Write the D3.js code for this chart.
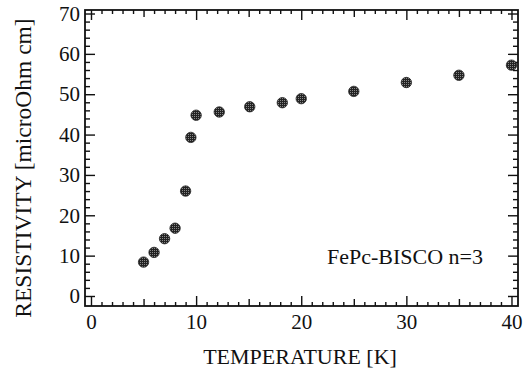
<!DOCTYPE html>
<html>
<head>
<meta charset="utf-8">
<script src="https://cdn.jsdelivr.net/npm/d3@7"></script>
<style>
  body { margin: 0; background: #fff; }
  .axis path { stroke: #111; stroke-width: 1.8; }
  .axis line { stroke: #111; stroke-width: 1.4; }
</style>
</head>
<body>
<svg id="chart" width="527" height="377"></svg>
<script>
// data
const temperature = [5, 6, 7, 8, 9, 9.5, 10, 12.2, 15.1, 18.2, 20, 25, 30, 35, 40]
const resistivity = [8.4, 10.8, 14.2, 16.8, 26, 39.3, 44.8, 45.6, 46.9, 47.9, 48.9, 50.7, 52.9, 54.7, 57.2]
const xTicks = [0, 10, 20, 30, 40]
const yTicks = [0, 10, 20, 30, 40, 50, 60, 70]
const label = 'FePc-BISCO n=3'

const FONT = 'Liberation Serif'
const W = 527, H = 377
const m = { left: 85, right: 9, top: 10, bottom: 71 }
const svg = d3.select('#chart')

const x = d3.scaleLinear().domain([-0.57, 40.62]).range([m.left, W - m.right])
const y = d3.scaleLinear().domain([-2.48, 70.87]).range([H - m.bottom, m.top])

// dithered marker fill
const defs = svg.append('defs')
const pat = defs.append('pattern').attr('id', 'dots').attr('width', 2).attr('height', 2)
  .attr('patternUnits', 'userSpaceOnUse')
pat.append('rect').attr('width', 2).attr('height', 2).attr('fill', '#222')
pat.append('rect').attr('width', 1).attr('height', 1).attr('fill', '#888')

const minorX = d3.range(0, 41, 1).filter(d => d % 5 !== 0)
const midX = d3.range(5, 40, 10)
const minorY = d3.range(0, 71, 2).filter(d => d % 10 !== 0)

function axisGroup(axis, tx, ty){
  const g = svg.append('g').attr('class', 'axis').attr('transform', `translate(${tx},${ty})`).call(axis)
  g.select('.domain').remove()
  g.attr('font-family', FONT)
  return g
}
const noLab = () => ''
const yb = H - m.bottom, xr = W - m.right

// bottom
axisGroup(d3.axisBottom(x).tickValues(minorX).tickSize(-4).tickFormat(noLab), 0, yb)
axisGroup(d3.axisBottom(x).tickValues(midX).tickSize(-7).tickFormat(noLab), 0, yb)
const bx = axisGroup(d3.axisBottom(x).tickValues(xTicks).tickSize(-10).tickFormat(d3.format('d')), 0, yb)
bx.selectAll('text').attr('font-size', 21).attr('fill', '#111').attr('dy', '0.35em').attr('y', 16)
// top
axisGroup(d3.axisTop(x).tickValues(minorX).tickSize(-4).tickFormat(noLab), 0, m.top)
axisGroup(d3.axisTop(x).tickValues(midX).tickSize(-7).tickFormat(noLab), 0, m.top)
axisGroup(d3.axisTop(x).tickValues(xTicks).tickSize(-10).tickFormat(noLab), 0, m.top)
// left
axisGroup(d3.axisLeft(y).tickValues(minorY).tickSize(-5).tickFormat(noLab), m.left, 0)
const ly = axisGroup(d3.axisLeft(y).tickValues(yTicks).tickSize(-10).tickFormat(d3.format('d')), m.left, 0)
ly.selectAll('text').attr('font-size', 21).attr('fill', '#111').attr('x', -5).attr('text-anchor', 'end')
// right
axisGroup(d3.axisRight(y).tickValues(minorY).tickSize(-5).tickFormat(noLab), xr, 0)
axisGroup(d3.axisRight(y).tickValues(yTicks).tickSize(-10).tickFormat(noLab), xr, 0)

// frame
svg.append('rect').attr('x', m.left).attr('y', m.top)
  .attr('width', xr - m.left).attr('height', yb - m.top)
  .attr('fill', 'none').attr('stroke', '#111').attr('stroke-width', 1.8)

// points
svg.append('g').selectAll('circle').data(temperature)
  .join('circle')
  .attr('cx', d => x(d))
  .attr('cy', (d, i) => y(resistivity[i]))
  .attr('r', 5.2)
  .attr('fill', 'url(#dots)')
  .attr('stroke', '#222').attr('stroke-width', 0.8)

// titles
const txt = svg.append('g').attr('font-family', FONT).attr('fill', '#111')
txt.append('text').attr('x', 300).attr('y', 364)
  .attr('text-anchor', 'middle').attr('font-size', 22).text('TEMPERATURE [K]')
txt.append('text').attr('transform', `translate(31,168) rotate(-90)`)
  .attr('text-anchor', 'middle').attr('font-size', 23.5).text('RESISTIVITY [microOhm cm]')
txt.append('text').attr('x', 483).attr('y', 264)
  .attr('text-anchor', 'end').attr('font-size', 22).text(label)
</script>
</body>
</html>
